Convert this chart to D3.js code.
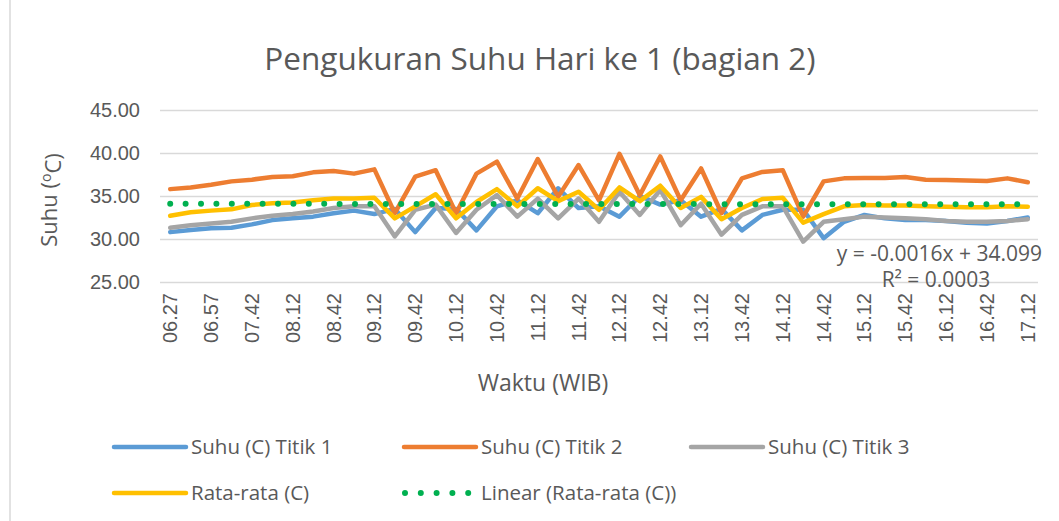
<!DOCTYPE html>
<html>
<head>
<meta charset="utf-8">
<title>Pengukuran Suhu Hari ke 1 (bagian 2)</title>
<style>
  body { margin: 0; background: #fff; }
  svg { display: block; font-family: "Open Sans", sans-serif; }
</style>
</head>
<body>
<svg width="1059" height="521"></svg>
<script src="https://d3js.org/d3.v7.min.js"></script>
<script>

// waktu pengukuran (label tiap 2 kategori ditampilkan)
var waktu = ["06.27","06.42","06.57","07.27","07.42","07.57","08.12","08.27","08.42","08.57",
             "09.12","09.27","09.42","09.57","10.12","10.27","10.42","10.57","11.12","11.27",
             "11.42","11.57","12.12","12.27","12.42","12.57","13.12","13.27","13.42","13.57",
             "14.12","14.27","14.42","14.57","15.12","15.27","15.42","15.57","16.12","16.27",
             "16.42","16.57","17.12"];

var titik1 = [30.8,31.05,31.25,31.3,31.7,32.2,32.4,32.6,33.0,33.3,
              32.9,33.5,30.8,33.6,33.5,31.0,33.8,34.5,33.0,35.9,
              33.6,33.8,32.6,35.0,34.0,34.5,32.6,33.5,31.0,32.8,
              33.4,33.4,30.1,32.0,32.8,32.4,32.2,32.2,32.1,31.9,
              31.8,32.1,32.5];

var titik2 = [35.8,36.0,36.3,36.7,36.9,37.2,37.3,37.75,37.9,37.6,
              38.1,33.0,37.25,38.0,33.0,37.6,39.0,34.7,39.3,34.9,
              38.6,34.5,39.9,35.1,39.6,34.5,38.2,33.0,37.05,37.8,
              38.0,32.6,36.7,37.05,37.1,37.1,37.2,36.9,36.85,36.8,
              36.75,37.05,36.6];

var titik3 = [31.3,31.6,31.8,32.0,32.4,32.7,32.9,33.2,33.6,33.8,
              33.8,30.3,33.4,34.0,30.7,33.4,35.1,32.6,34.7,32.4,
              34.7,32.0,35.5,32.8,35.7,31.6,34.1,30.5,32.8,33.8,
              33.8,29.7,32.0,32.3,32.6,32.5,32.4,32.3,32.1,32.0,
              32.0,32.1,32.3];

var rataRata = [32.7,33.1,33.3,33.45,33.95,34.15,34.25,34.5,34.7,34.7,
                34.8,32.4,33.8,35.2,32.4,34.3,35.8,33.8,35.9,34.4,
                35.5,33.4,36.0,34.4,36.2,33.6,34.9,32.3,33.6,34.65,
                34.8,31.9,32.9,33.8,33.95,33.9,33.9,33.8,33.75,33.7,
                33.7,33.8,33.75];

// garis tren linear dari label: y = -0.0016x + 34.099
var trend = [-0.0016, 34.099];
var yTicks = [25, 30, 35, 40, 45];

var seriesNames = ["Suhu (C) Titik 1", "Suhu (C) Titik 2", "Suhu (C) Titik 3", "Rata-rata (C)"];
var colors = ["#5b9bd5", "#ed7d31", "#a5a5a5", "#ffc000"];
var trendName = "Linear (Rata-rata (C))";

var svg = d3.select("svg"),
    margin = {top: 110, right: 21, bottom: 239, left: 160},
    width = +svg.attr("width") - margin.left - margin.right,
    height = +svg.attr("height") - margin.top - margin.bottom;

var textColor = "#595959";

svg.append("rect")
    .attr("x", 10).attr("y", -2)
    .attr("width", 1070).attr("height", 530)
    .attr("fill", "#fff")
    .attr("stroke", "#d9d9d9")
    .attr("stroke-width", 1.5);

var g = svg.append("g").attr("transform", "translate(" + margin.left + "," + margin.top + ")");

var x = d3.scaleBand().domain(waktu).range([0, width]);
var y = d3.scaleLinear().domain([25, 45]).range([height, 0]);
var cx = function(i) { return x(waktu[i]) + x.bandwidth() / 2; };

// judul
svg.append("text")
    .attr("x", 540).attr("y", 70)
    .attr("text-anchor", "middle")
    .attr("fill", textColor)
    .style("font-size", "31.5px")
    .text("Pengukuran Suhu Hari ke 1 (bagian 2)");

// sumbu y + gridlines
var yAxis = g.append("g")
    .call(d3.axisLeft(y).tickValues(yTicks).tickFormat(d3.format(".2f")).tickSize(-width).tickPadding(20));
yAxis.select(".domain").remove();
yAxis.selectAll("line").attr("stroke", "#d9d9d9").attr("stroke-width", 1.5);
yAxis.selectAll("text").attr("fill", textColor).style("font-size", "20px");

// sumbu x
var xAxis = g.append("g")
    .attr("transform", "translate(0," + height + ")")
    .call(d3.axisBottom(x).tickValues(waktu.filter(function(d, i) { return i % 2 === 0; })).tickSize(0));
xAxis.select(".domain").remove();
xAxis.selectAll("text")
    .attr("fill", textColor)
    .style("font-size", "20px")
    .attr("transform", "rotate(-90)")
    .attr("text-anchor", "end")
    .attr("x", -11)
    .attr("y", 0)
    .attr("dy", "0.35em");

// judul sumbu
svg.append("text")
    .attr("transform", "translate(57,200) rotate(-90)")
    .attr("text-anchor", "middle")
    .attr("fill", textColor)
    .style("font-size", "22px")
    .call(function(t) {
      t.append("tspan").text("Suhu (");
      t.append("tspan").attr("dy", "-0.45em").style("font-size", "14px").text("o");
      t.append("tspan").attr("dy", "0.45em").text("C)");
    });

svg.append("text")
    .attr("x", 543).attr("y", 391)
    .attr("text-anchor", "middle")
    .attr("fill", textColor)
    .style("font-size", "23px")
    .text("Waktu (WIB)");

// garis data
var line = d3.line()
    .x(function(d, i) { return cx(i); })
    .y(function(d) { return y(d); });

[titik1, titik2, titik3, rataRata].forEach(function(s, k) {
  g.append("path")
      .datum(s)
      .attr("fill", "none")
      .attr("stroke", colors[k])
      .attr("stroke-width", 4.5)
      .attr("stroke-linejoin", "round")
      .attr("stroke-linecap", "round")
      .attr("d", line);
});

// tren linear
var trendPts = [0, waktu.length - 1].map(function(i) { return [cx(i), y(trend[0] * (i + 1) + trend[1])]; });
g.append("path")
    .attr("d", d3.line()(trendPts))
    .attr("fill", "none")
    .attr("stroke", "#00b050")
    .attr("stroke-width", 6)
    .attr("stroke-linecap", "round")
    .attr("stroke-dasharray", "0 15.4");

// persamaan tren
svg.append("text")
    .attr("x", 1042).attr("y", 261)
    .attr("text-anchor", "end")
    .attr("fill", textColor)
    .style("font-size", "21px")
    .text("y = -0.0016x + 34.099");
svg.append("text")
    .attr("x", 936).attr("y", 287)
    .attr("text-anchor", "middle")
    .attr("fill", textColor)
    .style("font-size", "21px")
    .text("R² = 0.0003");

// legenda
var legendPos = [[114, 447], [404, 447], [691, 447], [114, 493]];
seriesNames.forEach(function(name, k) {
  var p = legendPos[k];
  svg.append("line")
      .attr("x1", p[0]).attr("x2", p[0] + 72)
      .attr("y1", p[1]).attr("y2", p[1])
      .attr("stroke", colors[k])
      .attr("stroke-width", 4.5)
      .attr("stroke-linecap", "round");
  svg.append("text")
      .attr("x", p[0] + 77).attr("y", p[1])
      .attr("dy", "0.35em")
      .attr("fill", textColor)
      .style("font-size", "20.5px")
      .text(name);
});
svg.append("line")
    .attr("x1", 405).attr("x2", 476)
    .attr("y1", 493).attr("y2", 493)
    .attr("stroke", "#00b050")
    .attr("stroke-width", 6)
    .attr("stroke-linecap", "round")
    .attr("stroke-dasharray", "0 15.8");
svg.append("text")
    .attr("x", 481).attr("y", 493)
    .attr("dy", "0.35em")
    .attr("fill", textColor)
    .style("font-size", "20.5px")
    .text(trendName);

</script>
</body>
</html>
